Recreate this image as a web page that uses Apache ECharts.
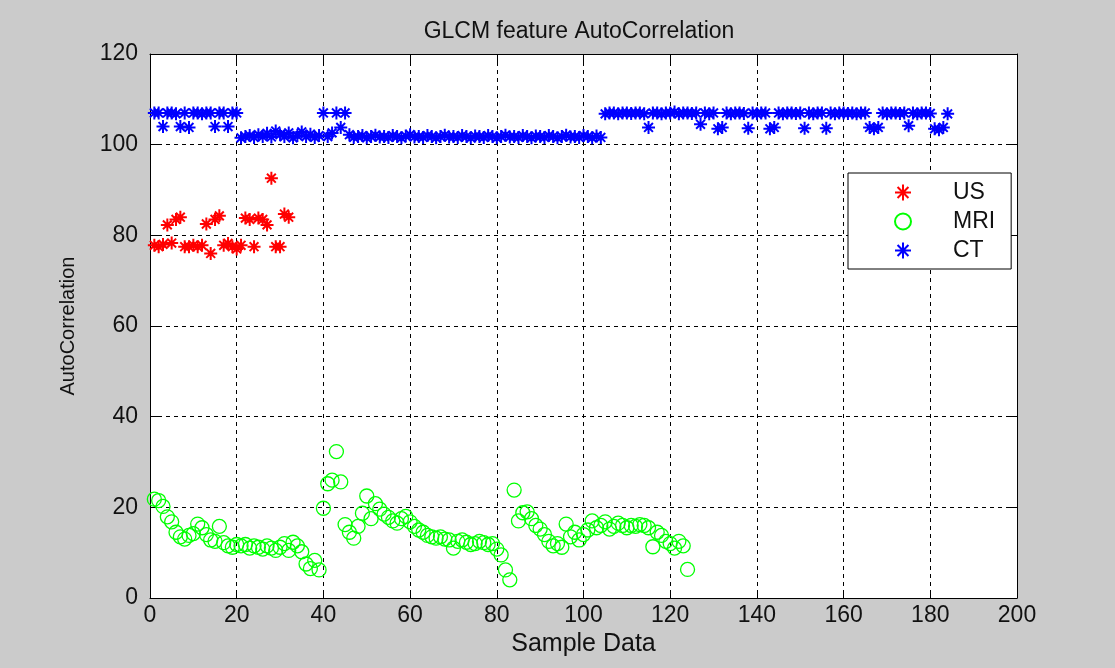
<!DOCTYPE html>
<html>
<head>
<meta charset="utf-8">
<script src="https://cdn.jsdelivr.net/npm/echarts@6/dist/echarts.min.js"></script>
<style>
  html, body { margin: 0; padding: 0; background: #cbcbcb; }
  #chart { width: 1115px; height: 668px; }
</style>
</head>
<body>
<div id="chart"></div>
<script>
// values, sample index starts at 1
var usValues = [77.8, 77.5, 78.0, 82.3, 78.3, 83.5, 84.0, 77.5, 77.5, 77.8,
    77.5, 77.8, 82.5, 76.0, 83.5, 84.3, 77.8, 78.2, 77.5, 77.0,
    77.8, 83.8, 83.5, 77.5, 83.8, 83.5, 82.3, 92.6, 77.5, 77.5,
    84.7, 84.0];

var mriValues = [21.8, 21.5, 20.2, 17.9, 16.8, 14.5, 13.5, 13.0, 13.8, 14.2,
    16.3, 15.5, 14.0, 12.8, 12.5, 15.8, 12.2, 11.5, 11.2, 11.8,
    11.5, 11.8, 11.0, 11.5, 11.2, 10.8, 11.5, 11.0, 10.5, 11.2,
    12.0, 10.5, 12.3, 11.5, 10.2, 7.5, 6.5, 8.3, 6.2, 19.8,
    25.2, 26.0, 32.3, 25.6, 16.2, 14.5, 13.2, 15.8, 18.7, 22.5,
    17.5, 20.8, 19.6, 18.5, 17.8, 17.0, 16.5, 17.5, 18.0, 16.8,
    15.8, 15.0, 14.5, 13.8, 13.5, 13.2, 13.5, 13.0, 12.8, 11.0,
    12.5, 12.8, 12.3, 11.8, 12.0, 12.5, 12.2, 11.8, 12.0, 10.8,
    9.5, 6.2, 4.0, 23.8, 17.0, 18.8, 19.0, 17.5, 16.0, 15.2,
    14.0, 12.5, 11.5, 12.0, 11.2, 16.3, 13.5, 14.5, 12.8, 14.0,
    15.0, 17.0, 15.5, 16.0, 16.8, 15.2, 15.8, 16.5, 16.0, 15.5,
    16.0, 15.8, 16.2, 16.0, 15.5, 11.3, 14.5, 13.8, 12.5, 12.0,
    11.0, 12.5, 11.5, 6.3];

var ctValues = [107.0, 107.0, 104.0, 107.0, 107.0, 106.8, 104.0, 107.0, 103.8, 107.0,
    107.0, 106.8, 107.0, 107.0, 104.0, 107.0, 107.0, 104.0, 107.0, 107.0,
    101.5, 101.8, 102.0, 101.6, 102.2, 101.8, 102.5, 101.7, 103.0, 102.2,
    101.8, 102.6, 101.5, 102.0, 102.8, 101.8, 102.3, 101.6, 102.0, 107.0,
    101.8, 102.6, 107.0, 103.8, 107.0, 102.2, 101.6, 101.8, 102.0, 101.5,
    101.8, 102.1, 101.7, 101.8, 101.6, 102.0, 101.8, 101.5, 101.9, 102.2,
    101.7, 101.8, 101.6, 102.0, 101.8, 101.5, 101.8, 102.1, 101.7, 101.8,
    101.6, 102.0, 101.8, 101.5, 101.9, 101.8, 101.6, 102.0, 101.8, 101.5,
    101.8, 102.1, 101.7, 101.8, 101.6, 102.0, 101.8, 101.5, 101.9, 101.8,
    101.6, 102.0, 101.8, 101.5, 101.8, 102.1, 101.7, 101.8, 101.6, 102.0,
    101.8, 101.5, 101.9, 101.6, 106.8, 107.0, 107.0, 106.8, 107.0, 107.0,
    106.9, 107.0, 107.0, 106.8, 103.8, 107.0, 107.0, 106.8, 107.0, 107.0,
    107.2, 106.8, 107.0, 107.0, 106.9, 107.0, 104.5, 107.0, 106.8, 107.0,
    103.5, 103.8, 107.0, 106.8, 107.0, 107.0, 106.9, 103.6, 107.0, 106.8,
    107.0, 107.0, 103.5, 103.8, 107.0, 106.8, 107.0, 107.0, 106.9, 107.0,
    103.6, 107.0, 106.8, 107.0, 107.0, 103.6, 107.0, 106.8, 107.0, 107.0,
    106.9, 107.0, 106.8, 107.0, 107.0, 103.8, 103.5, 103.8, 107.0, 106.8,
    107.0, 107.0, 106.9, 107.0, 104.2, 107.0, 106.8, 107.0, 107.0, 106.9,
    103.5, 103.3, 103.8, 106.8];

var seriesNames = ['US', 'MRI', 'CT'];
var xTicks = [0, 200, 20];   // min, max, step
var yTicks = [0, 120, 20];

var starPath = 'path://M5 0L5 10M0 5L10 5M1.6 1.6L8.4 8.4M1.6 8.4L8.4 1.6';
var fontName = 'Liberation Sans, Arial, sans-serif';
var txtColor = '#111';

function toPoints(values){
    var pts = [];
    for(var i=0;i<values.length;i++){
        pts.push([i+1, values[i]]);
    }
    return pts;
}

var chart = echarts.init(document.getElementById('chart'));

var frameAxis = {
    axisLine: { show: true, onZero: false, lineStyle: { color: '#000', width: 1 } },
    axisTick: { show: true, inside: true, length: 8, lineStyle: { color: '#000' } },
    axisLabel: { show: false },
    splitLine: { show: false }
};

option = {
    backgroundColor: '#cbcbcb',
    animation: false,
    title: {
        text: 'GLCM feature AutoCorrelation',
        left: 574,
        top: 15,
        textAlign: 'center',
        textStyle: { fontFamily: fontName, fontSize: 23, fontWeight: 'normal', color: txtColor }
    },
    grid: {
        left: 150, top: 54, width: 867, height: 544,
        show: true, backgroundColor: '#fff', borderWidth: 0
    },
    legend: {
        data: seriesNames,
        orient: 'vertical',
        left: 848,
        top: 173,
        padding: [8, 16, 7, 46],
        itemWidth: 90,
        itemHeight: 16,
        itemGap: 6,
        backgroundColor: '#fff',
        borderColor: '#000',
        borderWidth: 1,
        textStyle: { fontFamily: fontName, fontSize: 23, color: txtColor }
    },
    xAxis: [
        {
            type: 'value', min: xTicks[0], max: xTicks[1], interval: xTicks[2],
            position: 'bottom',
            name: 'Sample Data', nameLocation: 'middle', nameGap: 27,
            nameTextStyle: { fontFamily: fontName, fontSize: 25, color: txtColor },
            axisLine: { show: true, onZero: false, lineStyle: { color: '#000', width: 1 } },
            axisTick: { show: true, inside: true, length: 8, lineStyle: { color: '#000' } },
            axisLabel: { fontFamily: fontName, fontSize: 23, color: txtColor, margin: 6 },
            splitLine: { show: true, lineStyle: { color: '#000', type: [4, 4], width: 1 } }
        },
        Object.assign({ type: 'value', min: xTicks[0], max: xTicks[1], interval: xTicks[2], position: 'top' }, frameAxis)
    ],
    yAxis: [
        {
            type: 'value', min: yTicks[0], max: yTicks[1], interval: yTicks[2],
            position: 'left',
            name: 'AutoCorrelation', nameLocation: 'middle', nameGap: 72,
            nameTextStyle: { fontFamily: fontName, fontSize: 20, color: txtColor },
            axisLine: { show: true, onZero: false, lineStyle: { color: '#000', width: 1 } },
            axisTick: { show: true, inside: true, length: 8, lineStyle: { color: '#000' } },
            axisLabel: { fontFamily: fontName, fontSize: 23, color: txtColor, margin: 12 },
            splitLine: { show: true, lineStyle: { color: '#000', type: [4, 4], width: 1 } }
        },
        Object.assign({ type: 'value', min: yTicks[0], max: yTicks[1], interval: yTicks[2], position: 'right' }, frameAxis)
    ],
    series: [
        {
            name: 'US', type: 'scatter',
            symbol: starPath, symbolSize: 13, symbolKeepAspect: true,
            itemStyle: { color: '#ff0000', borderColor: '#ff0000', borderWidth: 2, opacity: 1 },
            data: toPoints(usValues)
        },
        {
            name: 'MRI', type: 'scatter',
            symbol: 'circle', symbolSize: 14,
            itemStyle: { color: 'rgba(0,0,0,0)', borderColor: '#00ff00', borderWidth: 1.3, opacity: 1 },
            data: toPoints(mriValues)
        },
        {
            name: 'CT', type: 'scatter',
            symbol: starPath, symbolSize: 13, symbolKeepAspect: true,
            itemStyle: { color: '#0000ff', borderColor: '#0000ff', borderWidth: 2, opacity: 1 },
            data: toPoints(ctValues)
        }
    ]
};

chart.setOption(option);
</script>
</body>
</html>
